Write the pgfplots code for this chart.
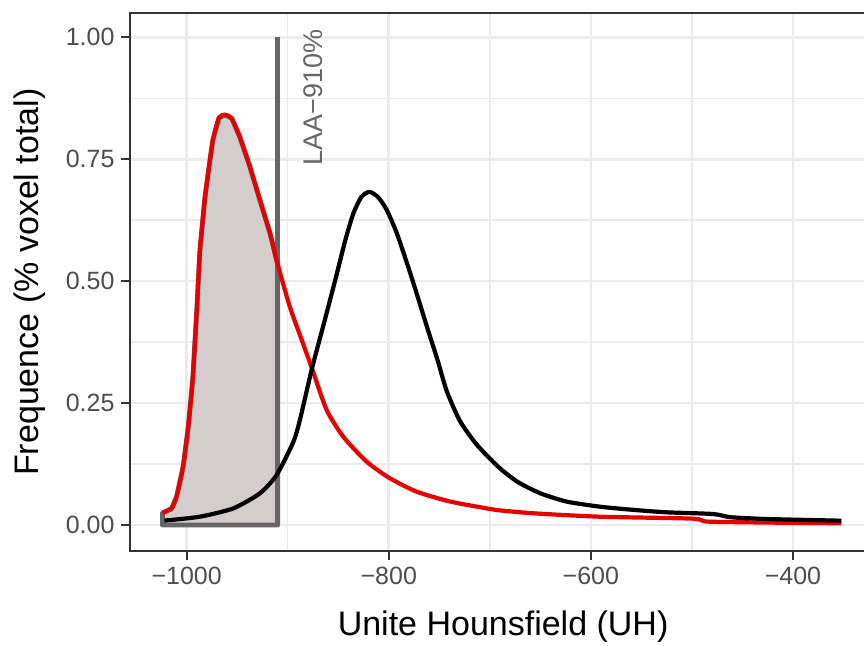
\documentclass[border=0pt]{standalone}
\usepackage{fontspec}
\setmainfont{Liberation Sans}
\usepackage{pgfplots}
\pgfplotsset{compat=1.18}

\definecolor{gridc}{HTML}{EBEBEB}
\definecolor{framec}{HTML}{333333}
\definecolor{ticklab}{HTML}{4D4D4D}
\definecolor{laagray}{HTML}{666666}
\definecolor{shade}{HTML}{D5CDCD}
\definecolor{redc}{HTML}{E60000}

\begin{document}
\begin{tikzpicture}
\begin{axis}[
    at={(0pt,0pt)}, anchor=south west,
    scale only axis,
    width=366.75pt, height=268.85pt,
    xmin=-1055.6, xmax=-329.7,
    ymin=-0.0533, ymax=1.0492,
    axis line style={draw=none},
    tick align=outside,
    xtick pos=left, ytick pos=left,
    major tick length=4.5pt,
    minor tick length=0pt,
    tick style={framec, line width=1pt},
    xtick={-1000,-800,-600,-400},
    xticklabels={−1000,−800,−600,−400},
    minor xtick={-900,-700,-500},
    ytick={0,0.25,0.5,0.75,1},
    yticklabels={0.00,0.25,0.50,0.75,1.00},
    minor ytick={0.125,0.375,0.625,0.875},
    grid=both,
    major grid style={gridc, line width=1.3pt},
    minor grid style={gridc, line width=0.7pt},
    ticklabel style={font=\fontsize{12.5}{15}\selectfont, text=ticklab},
    xlabel={Unite Hounsfield (UH)},
    ylabel={Frequence (\% voxel total)},
    label style={font=\fontsize{17}{20}\selectfont},
    xlabel style={at={(axis description cs:0.508,-0.1413)}, anchor=center},
    ylabel style={at={(axis description cs:-0.137,0.5)}, anchor=center},
    clip=false,
]

% zone LAA sous la courbe rouge
\addplot[fill=shade, draw=laagray, line width=2.4pt, line join=round] coordinates {
    (-1024,0) (-1024,0.025) (-1021.5,0.027) (-1015,0.034) (-1010,0.058)
    (-1003.5,0.12) (-998.5,0.20) (-994,0.30) (-990,0.44) (-987,0.56)
    (-982,0.67) (-977.5,0.74) (-974,0.79) (-968,0.835) (-962,0.841)
    (-955.5,0.834) (-947.5,0.796) (-937.5,0.735) (-927.5,0.666)
    (-917.5,0.598) (-910,0.535) (-910,0)
} --cycle;

% seuil -910
\addplot[laagray, line width=2.2pt] coordinates {(-910,0) (-910,1)};

% courbe rouge
\addplot[redc, line width=2.1pt, line join=round, smooth, tension=0.4] coordinates {
    (-1024,0.025) (-1021.5,0.027) (-1015,0.034) (-1010,0.058)
    (-1003.5,0.12) (-998.5,0.20) (-994,0.30) (-990,0.44) (-987,0.56)
    (-982,0.67) (-977.5,0.74) (-974,0.79) (-968,0.835) (-962,0.841)
    (-955.5,0.834) (-947.5,0.796) (-937.5,0.735) (-927.5,0.666)
    (-917.5,0.598) (-910,0.535) (-898,0.448) (-888,0.39) (-876,0.321)
    (-861.5,0.236) (-845,0.181) (-822,0.130) (-799,0.096) (-772,0.068)
    (-739,0.048) (-703,0.034) (-690,0.030) (-657,0.024) (-591,0.017)
    (-499,0.013) (-485,0.007) (-426,0.005) (-352,0.0035)
};

% courbe noire
\addplot[black, line width=2.1pt, line join=round, smooth, tension=0.4] coordinates {
    (-1022,0.009) (-987,0.017) (-954,0.034) (-927.5,0.065) (-911,0.1025)
    (-894.5,0.17) (-888,0.215) (-876,0.321) (-865,0.407) (-853,0.502)
    (-843,0.584) (-835,0.639) (-827,0.673) (-819,0.683) (-810.5,0.672)
    (-802,0.646) (-792,0.598) (-782,0.537) (-772,0.472) (-762,0.405)
    (-752,0.340) (-742.7,0.275) (-729.5,0.213) (-713,0.165) (-692,0.12)
    (-673,0.089) (-650,0.065) (-624,0.048) (-591,0.0375) (-558,0.031)
    (-525,0.026) (-479,0.0225) (-462,0.016) (-426,0.0123) (-352,0.0088)
};

\node[rotate=90, text=laagray, font=\fontsize{13.5}{16}\selectfont]
    at (axis cs:-875,0.877) {LAA−910\%};

\draw[framec, line width=1pt]
    (rel axis cs:1,1) -- (rel axis cs:0,1) -- (rel axis cs:0,0) -- (rel axis cs:1,0);
\end{axis}
\pgfresetboundingbox
\path[use as bounding box] (-65.25pt,-47.5pt) rectangle (366.75pt,275.5pt);
\end{tikzpicture}
\end{document}
